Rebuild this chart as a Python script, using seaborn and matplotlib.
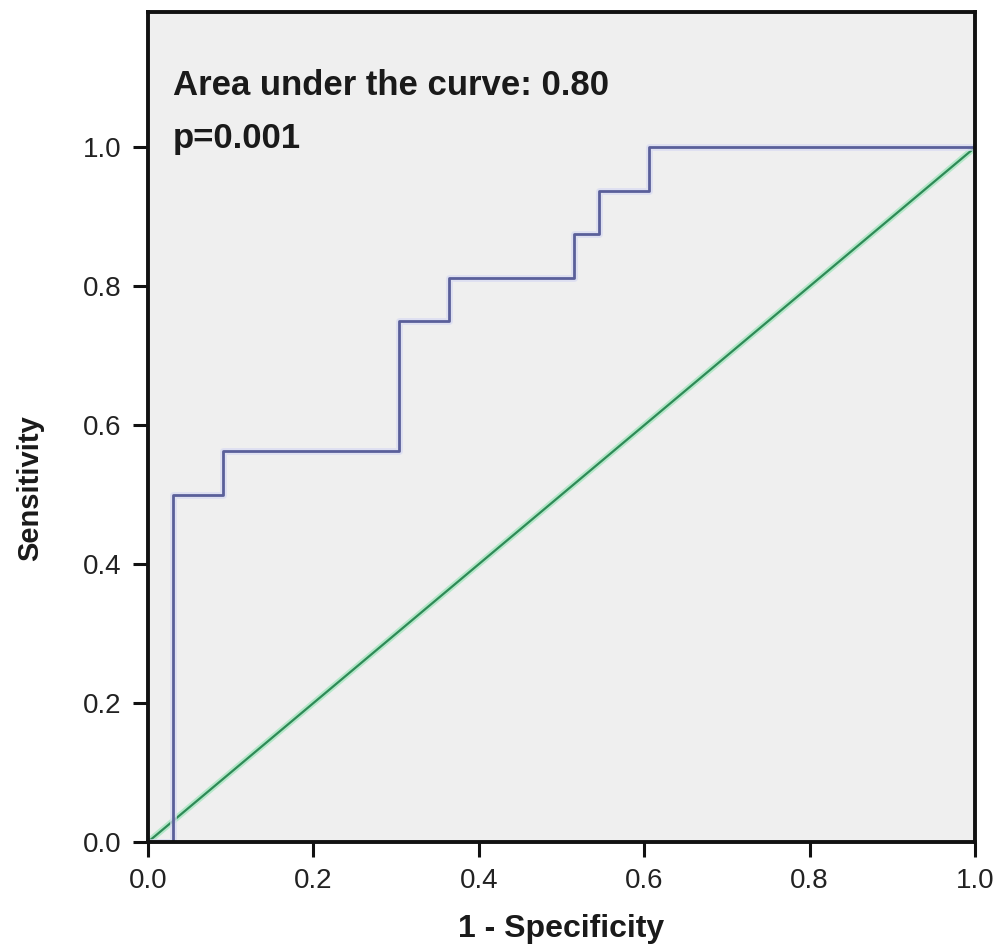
import numpy as np
import pandas as pd
import matplotlib
matplotlib.use("Agg")
import matplotlib.pyplot as plt
import seaborn as sns

# ROC curve points (1 - specificity, sensitivity)
fpr = [0.0, 1/33, 1/33, 3/33, 3/33, 10/33, 10/33, 12/33, 12/33, 17/33, 17/33,
       18/33, 18/33, 20/33, 20/33, 1.0]
tpr = [0.0, 0.0, 8/16, 8/16, 9/16, 9/16, 12/16, 12/16, 13/16, 13/16, 14/16,
       14/16, 15/16, 15/16, 1.0, 1.0]
ref_x = [0.0, 1.0]
ref_y = [0.0, 1.0]
xticks = [0.0, 0.2, 0.4, 0.6, 0.8, 1.0]
yticks = [0.0, 0.2, 0.4, 0.6, 0.8, 1.0]
auc_text = "Area under the curve: 0.80"
p_text = "p=0.001"

sns.set_style("white")
plt.rcParams['font.family'] = ['Liberation Sans', 'DejaVu Sans']

fig = plt.figure(figsize=(10.02, 9.47), dpi=100)
ax = fig.add_axes([0.1477, 0.1109, 0.8253, 0.8764])
ax.set_facecolor("#efefef")

roc = pd.DataFrame({"fpr": fpr, "tpr": tpr})
ref = pd.DataFrame({"x": ref_x, "y": ref_y})

sns.lineplot(data=ref, x="x", y="y", ax=ax, estimator=None, sort=False,
             color="#8fe3b0", linewidth=4.5, alpha=0.6)
sns.lineplot(data=ref, x="x", y="y", ax=ax, estimator=None, sort=False,
             color="#2e8b57", linewidth=1.6)
sns.lineplot(data=roc, x="fpr", y="tpr", ax=ax, estimator=None, sort=False,
             color="#d8daf2", linewidth=5, alpha=0.7)
sns.lineplot(data=roc, x="fpr", y="tpr", ax=ax, estimator=None, sort=False,
             color="#5a5f9a", linewidth=2.0)

ax.set_xlim(0, 1.0)
ax.set_ylim(0, 1.195)
ax.set_xticks(xticks)
ax.set_yticks(yticks)
ax.set_xticklabels([f"{t:.1f}" for t in xticks])
ax.set_yticklabels([f"{t:.1f}" for t in yticks])
ax.tick_params(axis="both", direction="out", length=11, width=2.2,
               labelsize=20, color="#111111", labelcolor="#222222", pad=8)
ax.xaxis.set_ticks_position("bottom")
ax.yaxis.set_ticks_position("left")
for s in ax.spines.values():
    s.set_visible(True)
    s.set_linewidth(2.8)
    s.set_color("#111111")

ax.set_xlabel("1 - Specificity", fontsize=23, fontweight="bold", labelpad=14,
              color="#1a1a1a")
ax.set_ylabel("Sensitivity", fontsize=21, fontweight="bold",
              color="#1a1a1a")
ax.yaxis.set_label_coords(-0.125, 0.4265)

ax.text(0.03, 1.075, auc_text, fontsize=25, fontweight="bold",
        color="#1a1a1a", va="baseline", ha="left")
ax.text(0.03, 0.999, p_text, fontsize=25, fontweight="bold",
        color="#1a1a1a", va="baseline", ha="left")

fig.savefig("out.png", dpi=100, facecolor="white")
